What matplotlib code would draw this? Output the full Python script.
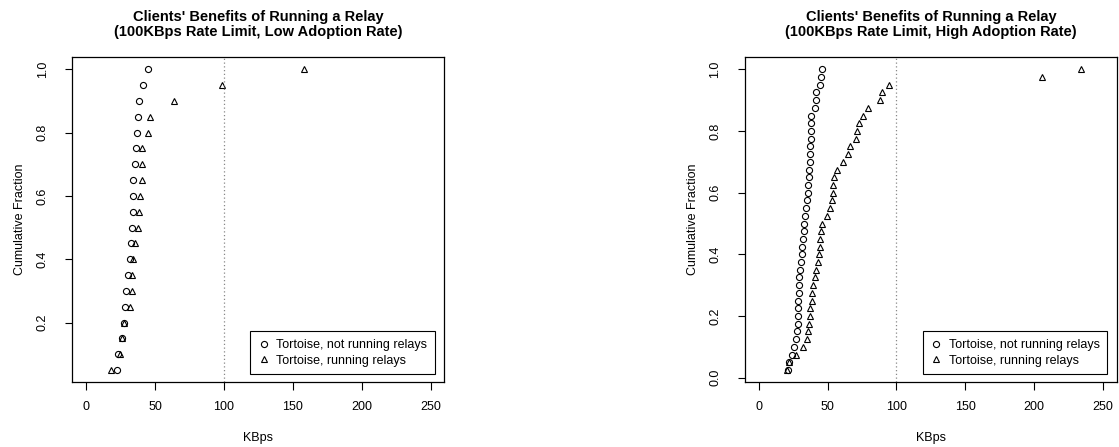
import matplotlib as mpl
import matplotlib.pyplot as plt
import numpy as np

mpl.rcParams['font.family'] = ['Liberation Sans', 'DejaVu Sans']

base_size = 9
title_size = 10.5

# y values of the empirical CDFs
low_frac = [0.05, 0.10, 0.15, 0.20, 0.25, 0.30, 0.35, 0.40, 0.45, 0.50,
            0.55, 0.60, 0.65, 0.70, 0.75, 0.80, 0.85, 0.90, 0.95, 1.00]
high_frac = [0.025, 0.050, 0.075, 0.100, 0.125, 0.150, 0.175, 0.200, 0.225, 0.250,
             0.275, 0.300, 0.325, 0.350, 0.375, 0.400, 0.425, 0.450, 0.475, 0.500,
             0.525, 0.550, 0.575, 0.600, 0.625, 0.650, 0.675, 0.700, 0.725, 0.750,
             0.775, 0.800, 0.825, 0.850, 0.875, 0.900, 0.925, 0.950, 0.975, 1.000]

# KBps, low adoption rate
low_not_running = [22.7, 23.2, 25.9, 27.3, 28.3, 29.0, 30.7, 32.2, 32.6, 33.2,
                   33.7, 33.8, 34.4, 35.6, 36.3, 37.3, 37.5, 38.3, 41.2, 44.8]
low_running = [17.9, 24.9, 26.0, 27.4, 31.9, 33.4, 33.6, 33.7, 35.6, 37.5,
               38.7, 38.8, 40.4, 40.7, 40.9, 45.3, 46.5, 64.1, 98.8, 158.1]

# KBps, high adoption rate
high_not_running = [21.5, 22.0, 24.0, 25.7, 27.3, 28.0, 28.3, 28.4, 28.6, 28.8,
                    28.9, 29.1, 29.3, 29.6, 30.4, 31.2, 31.7, 32.2, 32.5, 33.2,
                    33.8, 34.4, 35.2, 35.7, 36.0, 36.4, 36.7, 36.9, 37.2, 37.4,
                    37.6, 37.8, 38.0, 38.2, 40.9, 41.4, 41.9, 44.3, 45.0, 46.0]
high_running = [20.6, 22.0, 26.9, 32.4, 35.1, 36.1, 36.6, 37.0, 37.5, 38.7,
                38.9, 39.4, 40.9, 41.4, 43.3, 43.8, 44.3, 44.8, 45.5, 45.8,
                49.6, 51.6, 53.2, 53.7, 54.2, 54.7, 56.6, 61.2, 64.9, 66.1,
                70.4, 71.4, 72.8, 75.5, 79.4, 88.4, 89.8, 94.4, 206.0, 233.8]

rate_limit = 100
x_ticks = [0, 50, 100, 150, 200, 250]
legend_labels = ["Tortoise, not running relays", "Tortoise, running relays"]
title_line1 = "Clients' Benefits of Running a Relay"
subtitles = ["(100KBps Rate Limit, Low Adoption Rate)",
             "(100KBps Rate Limit, High Adoption Rate)"]

W, H = 1119, 447
fig = plt.figure(figsize=(W / 100, H / 100), dpi=100)


def px_box(left, top, right, bottom):
    return [left / W, 1 - bottom / H, (right - left) / W, (bottom - top) / H]


def cdf_panel(box, frac, not_running, running, subtitle, y_ticks):
    ax = fig.add_axes(px_box(*box))
    ax.plot(not_running, frac, linestyle='none', marker='o', markersize=4.4,
            markerfacecolor='none', markeredgecolor='black', markeredgewidth=0.8,
            label=legend_labels[0])
    ax.plot(running, frac, linestyle='none', marker='^', markersize=5.0,
            markerfacecolor='none', markeredgecolor='black', markeredgewidth=0.8,
            label=legend_labels[1])
    ax.axvline(rate_limit, color='#888888', linestyle=(0, (1, 2)), linewidth=0.9)

    # R style 4% padding around the limits
    x0, x1 = 0, 250
    dx = (x1 - x0) * 0.04
    ax.set_xlim(x0 - dx, x1 + dx)
    y0, y1 = min(frac), max(frac)
    dy = (y1 - y0) * 0.04
    ax.set_ylim(y0 - dy, y1 + dy)

    ax.set_xticks(x_ticks)
    ax.set_yticks(y_ticks)
    ax.set_yticklabels([f'{t:.1f}' for t in y_ticks], rotation=90, va='center')
    ax.tick_params(axis='x', labelsize=base_size, length=5.5, width=0.8, pad=8)
    ax.tick_params(axis='y', labelsize=base_size, length=5, width=0.8, pad=12)
    for s in ax.spines.values():
        s.set_linewidth(0.9)

    ax.set_xlabel("KBps", fontsize=base_size, va='center')
    ax.set_ylabel("Cumulative Fraction", fontsize=base_size, va='center')
    ax.xaxis.set_label_coords(0.5, -0.173)
    ax.yaxis.set_label_coords(-0.141, 0.5)

    cx = (box[0] + box[2]) / 2 / W
    fig.text(cx, 1 - 16.7 / H, title_line1, ha='center', va='center',
             fontsize=title_size, fontweight='bold')
    fig.text(cx, 1 - 31.7 / H, subtitle, ha='center', va='center',
             fontsize=title_size, fontweight='bold')

    leg = ax.legend(loc='lower right', bbox_to_anchor=(0.975, 0.024),
                    fontsize=base_size, frameon=True, fancybox=False,
                    edgecolor='black', framealpha=1, borderpad=0.6,
                    handlelength=1.0, handletextpad=0.5, labelspacing=0.3,
                    borderaxespad=0)
    leg.get_frame().set_linewidth(0.8)
    return ax


cdf_panel((72.3, 57.3, 444.3, 382), low_frac, low_not_running, low_running,
          subtitles[0], [0.2, 0.4, 0.6, 0.8, 1.0])
cdf_panel((745, 57.3, 1116.7, 382), high_frac, high_not_running, high_running,
          subtitles[1], [0.0, 0.2, 0.4, 0.6, 0.8, 1.0])

plt.savefig("out.png", dpi=100)
